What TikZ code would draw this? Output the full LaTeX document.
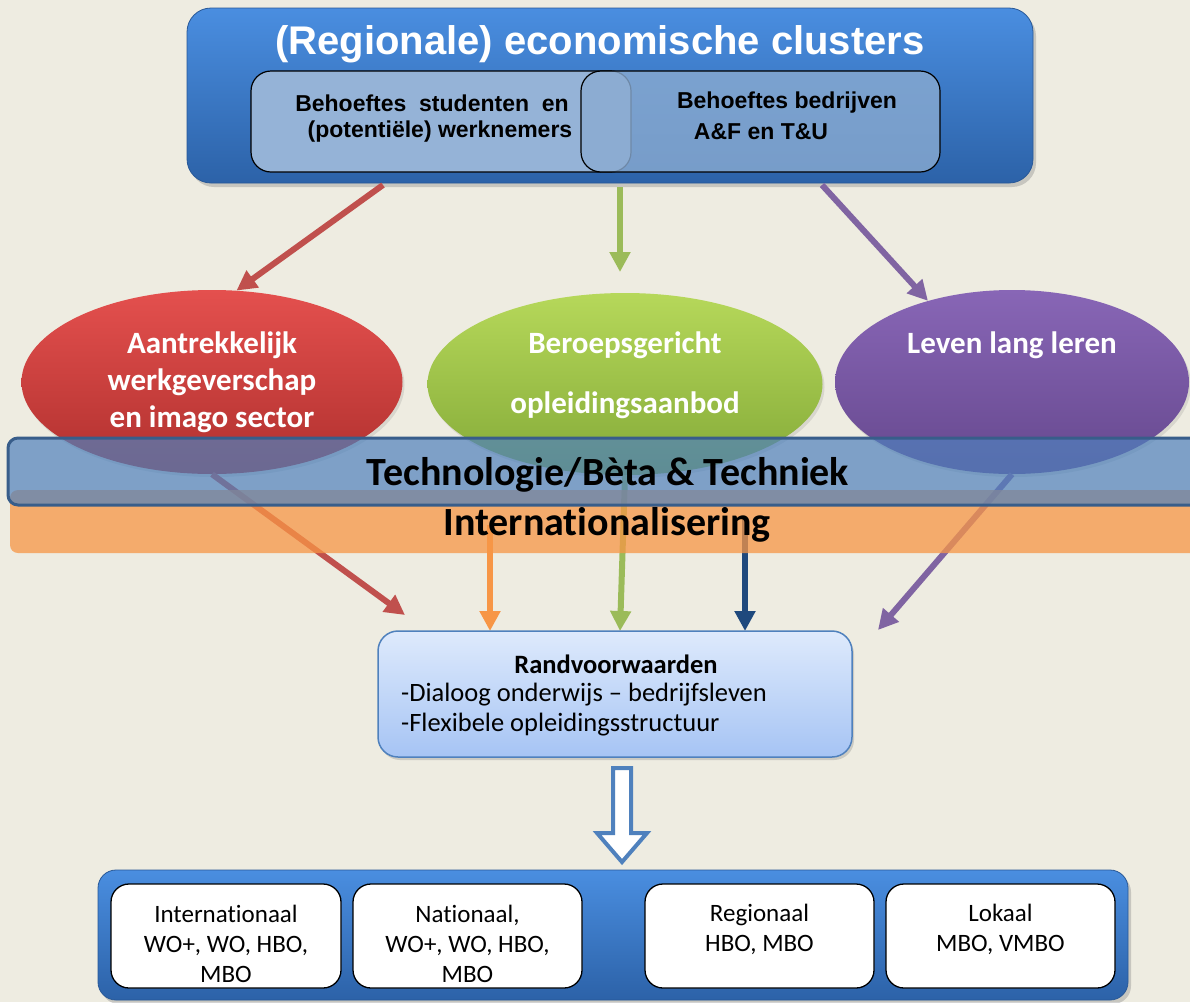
\documentclass[tikz,border=0pt]{standalone}
\usepackage{fontspec}
\setmainfont{Carlito}[Ligatures=NoCommon]
\newfontfamily\arialf{Liberation Sans}
\usetikzlibrary{arrows.meta,shapes.geometric,shadows,calc}
\definecolor{bg}{RGB}{238,236,225}
\definecolor{cred}{RGB}{192,80,77}
\definecolor{cgreen}{RGB}{155,187,89}
\definecolor{cpurple}{RGB}{128,100,162}
\definecolor{corange}{RGB}{247,150,70}
\definecolor{cdblue}{RGB}{31,73,125}
\definecolor{cblue}{RGB}{79,129,189}
\definecolor{cbandline}{RGB}{56,93,138}
\definecolor{boxtop}{RGB}{74,142,224}
\definecolor{boxbot}{RGB}{44,98,168}
\definecolor{inleft}{RGB}{149,179,215}
\definecolor{inright}{RGB}{138,171,209}
\definecolor{randtop}{RGB}{222,234,252}
\definecolor{randbot}{RGB}{166,196,244}
\definecolor{redtop}{RGB}{228,80,78}
\definecolor{redbot}{RGB}{176,48,46}
\definecolor{greentop}{RGB}{182,216,90}
\definecolor{greenbot}{RGB}{132,170,56}
\definecolor{purptop}{RGB}{136,102,182}
\definecolor{purpbot}{RGB}{102,72,142}
\tikzset{
  bigbox/.style={rounded corners=24pt, top color=boxtop, bottom color=boxbot, draw=boxbot!90!black, line width=0.8pt,
     drop shadow={shadow xshift=3pt, shadow yshift=-4pt, opacity=0.35}, minimum width=#1, inner sep=0pt},
  innerbox/.style={rounded corners=20pt, draw=black, line width=1.2pt, inner sep=0pt},
  oval/.style={ellipse, inner sep=0pt, drop shadow={shadow xshift=2pt, shadow yshift=-3pt, opacity=0.2}},
  arr/.style={line width=6pt, -{Triangle[length=20pt,width=20pt]}},
  whitebox/.style={rounded corners=18pt, draw=black, line width=1.3pt, fill=white, minimum width=229pt, minimum height=104pt, inner sep=0pt},
  titlefont/.style={font=\arialf\bfseries\fontsize{40}{46}\selectfont, text=white},
  innerfont/.style={font=\arialf\bfseries\fontsize{23}{29}\selectfont, inner sep=0pt},
  ovalfont/.style={font=\bfseries\fontsize{31}{37}\selectfont, text=white, align=center, inner sep=0pt},
  bandfont/.style={font=\bfseries\fontsize{40}{46}\selectfont, text=black, inner sep=0pt},
  randfont/.style={font=\fontsize{26.5}{30}\selectfont, inner sep=0pt},
  smallfont/.style={font=\fontsize{25}{30}\selectfont, align=center, inner sep=0pt},
}
\begin{document}
\begin{tikzpicture}[x=1pt,y=-1pt]
\fill[bg] (0,0) rectangle (1190,1002);
\useasboundingbox (0,0) rectangle (1190,1002);

% top box
\node[bigbox=846pt, minimum height=175pt] (topbox) at (610,95.5) {};
\node[titlefont] (title) at (600,44.5) {(Regionale) economische clusters};
\node[innerbox, fill=inleft, minimum width=380pt, minimum height=101pt] (leftin) at (441,121.5) {};
\node[innerfont] (lt1) at (432,103) {Behoeftes\ \ studenten\ \ en};
\node[innerfont] (lt2) at (440,132) {(potentiële) werknemers};
\node[innerbox, fill=inright, fill opacity=0.8, minimum width=359pt, minimum height=101pt] (rightin) at (760.5,121.5) {};
\node[innerfont] (rt1) at (787,103) {Behoeftes bedrijven};
\node[innerfont] (rt2) at (761,132) {A\&F en T\&U};

% ellipses
\node[oval, top color=redtop, bottom color=redbot, minimum width=381pt, minimum height=184pt] (red) at (212,382) {};
\node[oval, top color=greentop, bottom color=greenbot, minimum width=395pt, minimum height=182pt] (green) at (625,384) {};
\node[oval, top color=purptop, bottom color=purpbot, minimum width=354pt, minimum height=184pt] (purple) at (1012,382) {};
\node[ovalfont] (redtxt) at (212,382) {Aantrekkelijk\\werkgeverschap\\en imago sector};
\node[ovalfont] (gt1) at (625,345) {Beroepsgericht};
\node[ovalfont] (gt2) at (625,405) {opleidingsaanbod};
\node[ovalfont] (pt1) at (1012,345) {Leven lang leren};

% top arrows
\coordinate (r1) at (383,185);
\coordinate (g1) at (620,187);
\coordinate (g1e) at (620,272);
\coordinate (p1) at (822,185);
\draw[arr, cred] (r1) -- (red.75);
\draw[arr, cgreen] (g1) -- (g1e);
\draw[arr, cpurple] (p1) -- (purple.136);

% arrow end points near the randvoorwaarden box
\coordinate (r2e) at (405,615);
\coordinate (o2s) at (490,525);
\coordinate (b2s) at (745,518);
\coordinate (p2e) at (878,630);
\coordinate (g2e) at (620,631);
\coordinate (o2e) at (490,631);
\coordinate (b2e) at (745,631);

% lower arrows (beneath the bands)
\draw[arr, cred] (red.south) -- (r2e);
\draw[arr, cgreen] (green.south) -- (g2e);
\draw[arr, corange] (o2s) -- (o2e);
\draw[arr, cdblue] (b2s) -- (b2e);
\draw[arr, cpurple] (purple.south) -- (p2e);

% bands
\node[rounded corners=8pt, fill=corange, fill opacity=0.75, minimum width=1200pt, minimum height=63pt, inner sep=0pt] (oband) at (610,521.5) {};
\node[rounded corners=10pt, fill=cblue, fill opacity=0.7, draw=cbandline, line width=3pt, minimum width=1202pt, minimum height=67pt, inner sep=0pt] (bband) at (609,471.5) {};
\node[bandfont] (btxt) at (608,475) {Technologie/Bèta \& Techniek};
\node[bandfont] (otxt) at (607,525) {Internationalisering};

% rand box
\node[rounded corners=20pt, top color=randtop, bottom color=randbot, draw=cblue, line width=1.5pt,
      minimum width=474pt, minimum height=126pt, inner sep=0pt,
      drop shadow={shadow xshift=2pt, shadow yshift=-3pt, opacity=0.3}] (rand) at (615,694) {};
\node[randfont, font=\bfseries\fontsize{26.5}{30}\selectfont] (rt) at (616,664) {Randvoorwaarden};
\node[randfont, anchor=west] (rl1) at (401,695) {-Dialoog onderwijs – bedrijfsleven};
\node[randfont, anchor=west] (rl2) at (401,725) {-Flexibele opleidingsstructuur};

% hollow arrow
\draw[draw=cblue, line width=4pt, fill=white, line join=miter]
  (613,768) -- (631,768) -- (631,833) -- (647,833) -- (622,862) -- (597,833) -- (613,833) -- cycle;

% bottom box
\node[bigbox=1030pt, minimum height=130pt, rounded corners=18pt] (botbox) at (613,935) {};
\node[whitebox, minimum width=230pt] (b1) at (226,936) {};
\node[whitebox] (b2) at (467.5,936) {};
\node[whitebox] (b3) at (759.5,936) {};
\node[whitebox] (b4) at (1000.5,936) {};
\node[smallfont] (t1) at (226,944) {Internationaal\\WO+, WO, HBO,\\MBO};
\node[smallfont] (t2) at (467.5,944) {Nationaal,\\WO+, WO, HBO,\\MBO};
\node[smallfont] (t3) at (759.5,929) {Regionaal\\HBO, MBO};
\node[smallfont] (t4) at (1000.5,929) {Lokaal\\MBO, VMBO};
\end{tikzpicture}
\end{document}
